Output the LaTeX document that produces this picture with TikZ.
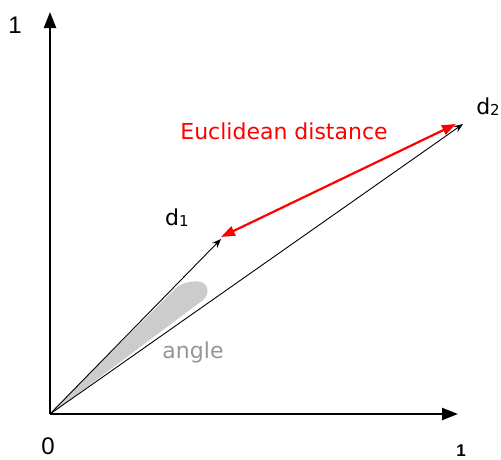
\documentclass[tikz,border=0pt]{standalone}
\usepackage{fontspec}
\setmainfont{DejaVu Sans}
\newfontfamily\arialf{Liberation Sans}
\usetikzlibrary{arrows.meta}
\definecolor{blobgray}{RGB}{204,204,204}
\definecolor{txtgray}{RGB}{150,150,150}
\definecolor{dred}{RGB}{255,0,0}
\tikzset{
  axis/.style={line width=2.4pt,-{Triangle[length=16pt,width=12pt]}},
  vec/.style={line width=0.9pt,-{Stealth[length=9pt,width=7pt]}},
  dist/.style={dred,line width=2.2pt,{Triangle[length=14pt,width=10pt]}-{Triangle[length=14pt,width=10pt]}},
  lbl/.style={inner sep=0pt,font=\fontsize{22}{26}\selectfont},
  axlbl/.style={inner sep=0pt,font=\arialf\fontsize{24}{28}\selectfont}
}
\begin{document}
\begin{tikzpicture}[x=1pt,y=-1pt]
\useasboundingbox (0,0) rectangle (501,459);
\coordinate (O) at (50,414);
\coordinate (Y) at (50,12);
\coordinate (X) at (458,414);
\coordinate (D1) at (221,239);
\coordinate (D2) at (463,124);
\coordinate (R1) at (221,237);
\coordinate (R2) at (456,124);
% gray blob
\fill[blobgray] (52,411) -- (173,291) .. controls (179,283) and (192,280) .. (201,282)
  .. controls (210,285) and (210,297) .. (199,303) -- (52,413) -- cycle;
\draw[axis] (O) -- (Y);
\draw[axis] (O) -- (X);
\draw[vec] (O) -- (D1);
\draw[vec] (O) -- (D2);
\draw[dist] (R1) -- (R2);
\node[axlbl] (one-y) at (15,25) {1};
\node[axlbl] (zero) at (48,446) {0};
\node[axlbl,font=\arialf\bfseries\fontsize{17}{18}\selectfont] (one-x) at (461,451) {1};
\node[lbl] (d1) at (177,218) {d\raisebox{-1pt}{\fontsize{15}{17}\selectfont 1}};
\node[lbl] (d2) at (488,107) {d\raisebox{-1pt}{\fontsize{15}{17}\selectfont 2}};
\node[lbl,text=dred] (eu) at (284,131) {Euclidean distance};
\node[lbl,text=txtgray] (ang) at (193,352) {angle};
\end{tikzpicture}
\end{document}
